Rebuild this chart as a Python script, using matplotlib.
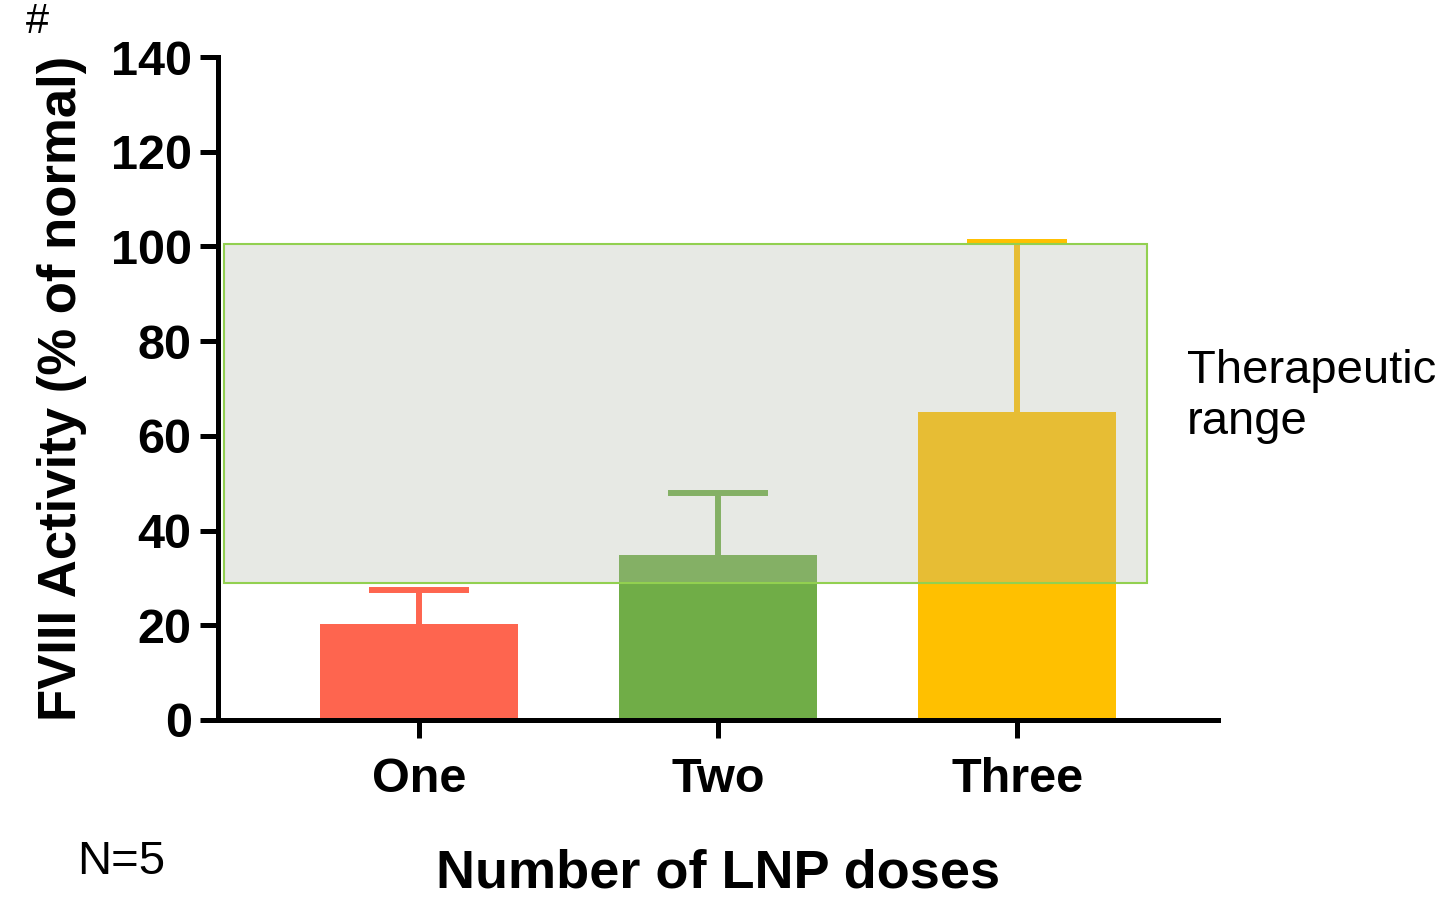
import matplotlib.pyplot as plt
from matplotlib.patches import Rectangle
import numpy as np

plt.rcParams['font.family'] = ['Liberation Sans', 'DejaVu Sans']

doses = ["One", "Two", "Three"]
means = [20.3, 34.8, 65.0]
sd_upper = [7.1, 13.1, 35.9]
bar_colors = ["#fe654f", "#70ad47", "#ffc000"]
range_low, range_high = 29.0, 100.5
yticks = [0, 20, 40, 60, 80, 100, 120, 140]

fig = plt.figure(figsize=(14.48, 9.02), dpi=100)
ax = fig.add_axes([0.1506, 0.2018, 0.6906, 0.735])

x = np.arange(len(doses))
ax.bar(x, means, width=0.66, color=bar_colors, zorder=2)
for xi, m, s, c in zip(x, means, sd_upper, bar_colors):
    eb = ax.errorbar(xi, m, yerr=[[0], [s]], fmt="none", ecolor=c,
                     elinewidth=4.3, capsize=36, capthick=4.3, zorder=2.5)
    # only the upper cap is wanted
    eb[1][0].set_visible(False)

# therapeutic range overlay
box = Rectangle((-0.652, range_low), 3.087, range_high - range_low,
                facecolor=(178 / 255, 185 / 255, 169 / 255, 0.31),
                edgecolor="#92d050", linewidth=1.5, zorder=3)
ax.add_patch(box)

ax.set_xlim(-0.672, 2.672)
ax.set_ylim(0, 140)
ax.set_yticks(yticks)
ax.set_xticks(x)
ax.set_xticklabels(doses)

for side in ["top", "right"]:
    ax.spines[side].set_visible(False)
for side in ["left", "bottom"]:
    ax.spines[side].set_linewidth(3.6)

ax.tick_params(axis="both", direction="out", length=13, width=3.6,
               labelsize=35)
ax.tick_params(axis="y", pad=6)
ax.tick_params(axis="x", pad=14)
for lbl in ax.get_xticklabels() + ax.get_yticklabels():
    lbl.set_fontweight("bold")

ax.set_ylabel("FVIII Activity (% of normal)", fontsize=38, fontweight="bold")
ax.yaxis.set_label_coords(-0.156, 0.5)
ax.yaxis.label.set_va("center")
ax.set_xlabel("Number of LNP doses", fontsize=39, fontweight="bold")
ax.xaxis.set_label_coords(0.5, -0.232)
ax.xaxis.label.set_va("center")

fig.text(0.026, 0.976, "#", fontsize=30, ha="center", va="center")
fig.text(0.053, 0.044, "N=5", fontsize=34, ha="left", va="center")
fig.text(0.8197, 0.56, "Therapeutic\nrange", fontsize=34, ha="left",
         va="center", linespacing=1.2)

plt.savefig("out.png", dpi=100)
